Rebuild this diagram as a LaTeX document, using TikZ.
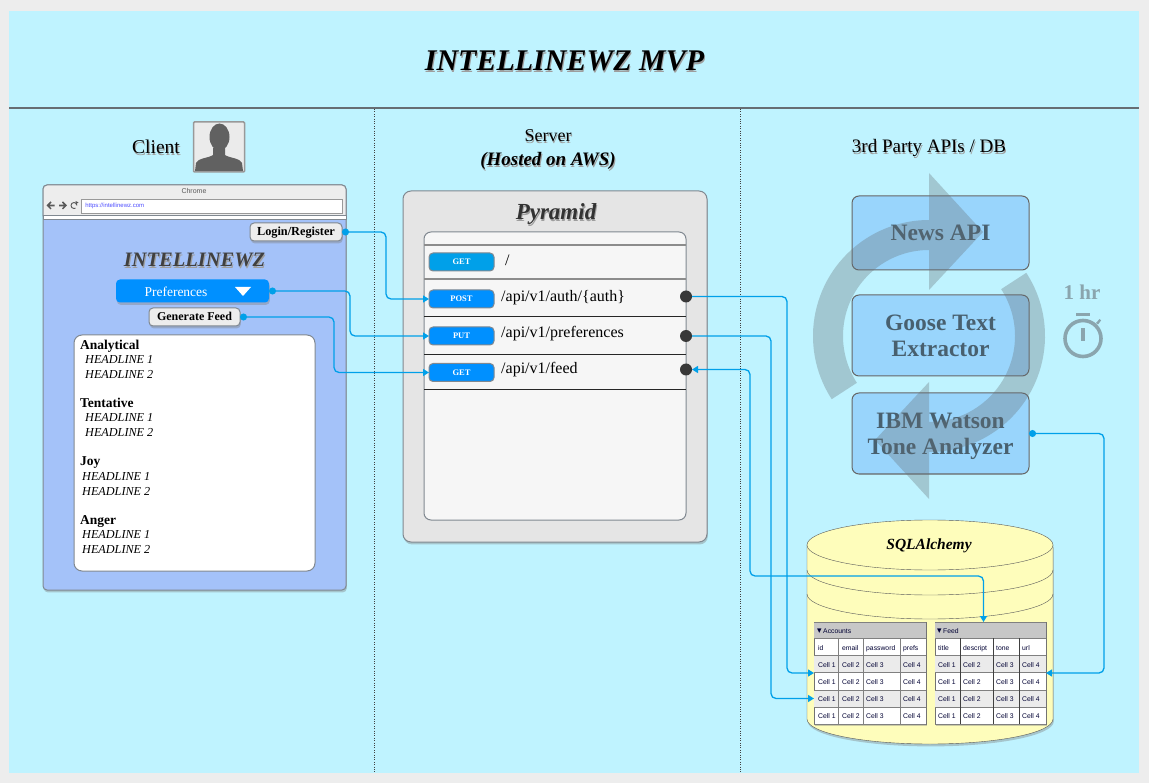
\documentclass[tikz,border=0pt]{standalone}
\usepackage{fontspec}
\setmainfont{Liberation Serif}
\setsansfont{Liberation Sans}
\newfontfamily\symfont{DejaVu Sans}
\usetikzlibrary{arrows.meta,shadows,positioning}
\newcommand{\fsz}[1]{\fontsize{#1}{#1}\selectfont}
\newcommand{\txtshadow}[1]{\leavevmode\rlap{\kern.9pt\raisebox{-1.2pt}{\textcolor{black!38}{#1}}}#1}
\definecolor{sky}{HTML}{BFF3FF}
\definecolor{pagegray}{HTML}{EDEDED}
\definecolor{linegray}{HTML}{808890}
\definecolor{barblue}{HTML}{0090FF}
\definecolor{wireblue}{HTML}{00A0E9}
\definecolor{pageblue}{HTML}{A4C2F9}
\definecolor{apiblue}{HTML}{99D5FC}
\definecolor{apitext}{HTML}{48606F}
\definecolor{ringgray}{HTML}{666F75}
\definecolor{timergray}{HTML}{8AA5AE}
\definecolor{dbyellow}{HTML}{FEFDBB}
\begin{document}
\begin{tikzpicture}[x=1pt,y=-1pt]
		\tikzset{
			softshadow/.style={
				drop shadow={opacity=.4,shadow xshift=.8pt,shadow yshift=-2.4pt}
			},
			box/.style={
				draw=linegray, line width=1pt, rounded corners=4pt, inner sep=0pt, outer sep=0pt
			},
			btn/.style={
				box, fill=pagegray, softshadow, minimum height=18pt, text height=8pt, text depth=0pt
			},
			verb/.style={
				box, fill=barblue, minimum width=65pt, minimum height=18pt, text=white, font=\fsz{8.5}\bfseries
			},
			apibox/.style={
				box, fill=apiblue, draw=black!60, rounded corners=7pt, minimum width=177pt, text=apitext, align=center, font=\fsz{23.5}\bfseries
			},
			lbl/.style={
				anchor=base, inner sep=0pt
			},
			route/.style={
				anchor=base west, inner sep=0pt, font=\fsz{16}
			},
			listhead/.style={
				anchor=base west, inner sep=0pt, font=\fsz{13.5}\bfseries
			},
			listitem/.style={
				anchor=base west, inner sep=0pt, font=\fsz{12.2}\itshape
			},
			cell/.style={
				anchor=west, inner sep=0pt, text=black!80!blue, text height=6.5pt, text depth=0pt, font=\sffamily\fsz{6.8}
			},
			dbtable/.style={
				draw=black!55, fill=white, inner sep=0pt, outer sep=0pt, softshadow
			},
			portdot/.style={
				circle, fill=black!78, minimum size=12pt, inner sep=0pt, outer sep=0pt
			},
			wire/.style={
				draw=wireblue, line width=1.3pt, rounded corners=5pt
			},
			ring/.style={
				fill=ringgray, fill opacity=.33
			}
		}
		
		\fill [pagegray] (0,0) rectangle (1149,783);
		\useasboundingbox (0,0) rectangle (1149,783);
		\fill [sky] (9,11) rectangle (1139,773);
		\draw [color=linegray!80!black, line width=1.2pt] (9,108) -- (1139,108);
		\foreach \x in {374, 740}{
			\draw [black!75, line width=.9pt, dash pattern=on 1pt off 1.4pt] (\x,109) -- (\x,773);
		}
		
		\node [lbl, font=\fsz{30}\bfseries\itshape] (title) at (564.5,71) {\txtshadow{INTELLINEWZ MVP}};
		\node [lbl, font=\fsz{19.5}] (client) at (156,154) {\txtshadow{Client}};
		\node [lbl, font=\fsz{18}] (server) at (548,142) {\txtshadow{Server}};
		\node [lbl, font=\fsz{19}\bfseries\itshape] (hosted) at (548,166) {\txtshadow{(Hosted on AWS)}};
		\node [lbl, font=\fsz{19}] (third) at (929,153) {\txtshadow{3rd Party APIs / DB}};
		
		\node [draw=black!40, line width=1.5pt, fill=white!92!black, rounded corners=1pt, minimum width=51pt, minimum height=50pt, inner sep=0pt] (avatar) at (219,147) {};
		\fill [black!62] (195,171) -- (196,163) .. controls (198,158) and (209,158) .. (213,155) -- (213,148) -- (225,148) -- (225,155) .. controls (229,158) and (240,158) .. (242,163) -- (243,171) -- cycle;
		\fill [black!62] (219.5,137) ellipse [x radius=10, y radius=13.5];
		
		\node [box, fill=pageblue, softshadow, minimum width=303pt, minimum height=405pt] (browser) at (194.5,387.5) {};
		\draw [draw=linegray, line width=1pt, fill=pagegray] (43,216) [rounded corners=4pt] -- (43,185) -- (346,185) [sharp corners] -- (346,216) -- cycle;
		\draw [draw=linegray, line width=1pt, fill=white] (43,216) rectangle (346,219.5);
		\node [lbl, font=\sffamily\fsz{7}, text=black!65] (chrome) at (194,194) {Chrome};
		\node [draw=black!40, fill=white, line width=.8pt, minimum height=14pt, inner sep=0pt, inner xsep=4pt, anchor=west, font=\sffamily\fsz{6}, text=blue!70!white, align=left, text width=253pt] (urlbar) at (81,206) {https://intellinewz.com};
		\fill [black!65] (46.5,205.5) -- (50.5,201.5) -- (51.5,202.5) -- (49.5,204.7) -- (54.5,204.7) -- (54.5,206.3) -- (49.5,206.3) -- (51.5,208.5) -- (50.5,209.5) -- cycle;
		\fill [black!65] (67,205.5) -- (63,201.5) -- (62,202.5) -- (64,204.7) -- (59,204.7) -- (59,206.3) -- (64,206.3) -- (62,208.5) -- (63,209.5) -- cycle;
		\draw [black!65, line width=.9pt] (77,205.5) arc [start angle=0, end angle=-300, radius=3];
		\fill [black!65] (75.5,201) -- (78.5,202.5) -- (75.5,204.5) -- cycle;
		
		\node [btn, font=\fsz{12.3}\bfseries, minimum width=92pt] (login) at (296,232) {Login/Register};
		\node [lbl, font=\fsz{20.5}\bfseries\itshape, text=black!75] (brand) at (194.5,267) {\txtshadow{INTELLINEWZ}};
		\node [box, fill=barblue, softshadow, minimum width=153pt, minimum height=23pt, draw=none] (prefs) at (192.5,291) {};
		\node [lbl, font=\fsz{13.5}, text=white] (prefstext) at (176,297) {Preferences};
		\fill [white] (235,287) -- (251,287) -- (243,296) -- cycle;
		\node [btn, font=\fsz{12}\bfseries, minimum width=91pt] (generate) at (194.5,317) {Generate Feed};
		\node [box, fill=white, rounded corners=8pt, minimum width=241pt, minimum height=236pt] (feedlist) at (194.5,453) {};
		
		\foreach \name/\y/\xh in {Analytical/350/85, Tentative/408/85, Joy/466/82, Anger/524/82}{
			\node [listhead] (head\name) at (80,\y) {\name};
			\node [listitem] (one\name) at (\xh,\y+14) {HEADLINE 1};
			\node [listitem] (two\name) at (\xh,\y+29) {HEADLINE 2};
		}
		
		\node [box, fill=black!10, softshadow, rounded corners=8pt, minimum width=304pt, minimum height=351pt] (pyramid) at (555,366.5) {};
		\node [lbl, font=\fsz{23}\bfseries\itshape, text=black!80] (pyramidtext) at (556,220) {\txtshadow{Pyramid}};
		\node [box, fill=black!3.5, rounded corners=7pt, minimum width=262pt, minimum height=288pt] (routes) at (555,376) {};
		\foreach \y/\c/\w in {245/black!45/1.5, 279/black!45/1.5, 316/black!85/.8, 354/black!85/.8, 389/black!85/.8}{
			\draw [color=\c, line width=\w pt] (424,\y) -- (686,\y);
		}
		
		\node [verb, fill=wireblue] (getroot) at (461.5,262) {GET};
		\node [verb] (post) at (461.5,299) {POST};
		\node [verb] (put) at (461.5,336) {PUT};
		\node [verb] (getfeed) at (461.5,372.5) {GET};
		\node [route] (rootroute) at (505,266) {/};
		\node [route] (authroute) at (501,302) {/api/v1/auth/\{auth\}};
		\node [route] (prefsroute) at (501,338) {/api/v1/preferences};
		\node [route] (feedroute) at (501,374) {/api/v1/feed};
		\node [portdot] (authdot) at (686,296.5) {};
		\node [portdot] (prefsdot) at (686,336) {};
		\node [portdot] (feeddot) at (686,369.5) {};
		
		\node [apibox, minimum height=74pt] (news) at (940.5,233) {News API};
		\node [apibox, minimum height=81pt] (goose) at (940.5,335.5) {Goose Text\\[2.5pt]Extractor};
		\node [apibox, minimum height=81pt] (watson) at (940.5,433.5) {\rule{0pt}{22pt}IBM Watson\\[2.5pt]Tone Analyzer};
		
		\path [ring] (929,336) ++(213:116pt) arc [start angle=213, end angle=90, radius=116pt] -- (929,173) -- (983,232) -- (929,290) -- (929,250) arc [start angle=90, end angle=213, radius=86pt] -- cycle;
		\path [ring] (929,336) ++(33:116pt) arc [start angle=33, end angle=-90, radius=116pt] -- (929,499) -- (875,440) -- (929,382) -- (929,422) arc [start angle=-90, end angle=33, radius=86pt] -- cycle;
		
		\node [lbl, font=\fsz{21}\bfseries, text=timergray] (hour) at (1082,300) {1 hr};
		\draw [timergray, line width=3.6pt] (1083,338.5) circle [radius=18];
		\fill [timergray] (1076,313) rectangle (1090,316.5);
		\fill [timergray] (1081,328) rectangle (1085,341);
		\fill [timergray] (1096,323) -- (1099.5,319) -- (1101,320.5) -- (1098,324.5) -- cycle;
		
		\draw [black!65, fill=dbyellow, softshadow] (807,545) -- (807,719) arc [start angle=180, end angle=360, x radius=123, y radius=-25] -- (1053,545) -- cycle;
		\foreach \y in {570, 594}{
			\draw [black!65] (807,\y) arc [start angle=180, end angle=360, x radius=123, y radius=-25];
		}
		\draw [black!65, fill=dbyellow] (930,545) ellipse [x radius=123, y radius=25];
		\node [lbl, font=\fsz{15.5}\bfseries\itshape] (sqlalchemy) at (929,549) {SQLAlchemy};
		
		\node [dbtable, minimum width=112pt, minimum height=102pt] (accounts) at (870,673) {};
		\node [dbtable, minimum width=111pt, minimum height=102pt] (feed) at (990.5,673) {};
		\fill [black!22] (814,622) rectangle (926,638);
		\fill [black!22] (935,622) rectangle (1046,638);
		\foreach \y in {664, 698.5}{
			\fill [black!8] (814,\y-8.5) rectangle (926,\y+8.5);
			\fill [black!8] (935,\y-8.5) rectangle (1046,\y+8.5);
		}
		\foreach \y in {622, 638, 655, 672, 690, 707, 724}{
			\draw [black!50, line width=1pt] (814,\y) -- (926,\y);
			\draw [black!50, line width=1pt] (935,\y) -- (1046,\y);
		}
		\foreach \x in {838.5, 863, 900}{
			\draw [black!50, line width=.8pt] (\x,638) -- (\x,724);
		}
		\foreach \x in {960.7, 993.6, 1019}{
			\draw [black!75, line width=.7pt] (\x,638) -- (\x,724);
		}
		
		\node [cell] (accountstext) at (817,630) {{\symfont\fsz{9}▾}\kern1.5pt Accounts};
		\node [cell] (feedtext) at (937,630) {{\symfont\fsz{9}▾}\kern1.5pt Feed};
		\foreach \x/\t [count=\k] in {818/id, 842/email, 866/password, 903/prefs}{
			\node [cell] (acol\k) at (\x,647) {\t};
			\foreach \y in {664, 681, 698.5, 715.5}{
				\node [cell] (a\y c\k) at (\x,\y) {Cell \k};
			}
		}
		\foreach \x/\t [count=\k] in {938/title, 963/descript, 996/tone, 1022/url}{
			\node [cell] (fcol\k) at (\x,647) {\t};
			\foreach \y in {664, 681, 698.5, 715.5}{
				\node [cell] (f\y c\k) at (\x,\y) {Cell \k};
			}
		}
		
		\coordinate (acctin) at (814,673);
		\coordinate (acctup) at (814,698.5);
		\coordinate (feedin) at (1046,673);
		\coordinate (feedtop) at (983.5,622);
		\coordinate (feedbend) at (750,576);
		
		\tikzset{
			dotstart/.style={{Circle[length=7pt]}-{Triangle[length=6pt,width=7pt]}},
			bothends/.style={{Triangle[length=6pt,width=7pt]}-{Triangle[length=6pt,width=7pt]}},
			plainstart/.style={-{Triangle[length=6pt,width=7pt]}}
		}
		\path [wire, dotstart] (login.east) -- ++(44,0) |- (post.west);
		\path [wire, dotstart] (prefs.east) -- ++(81,0) |- (put.west);
		\path [wire, dotstart] (generate.east) -- ++(94,0) |- (getfeed.west);
		\path [wire, plainstart] (authdot.east) -- ++(95,0) |- (acctin);
		\path [wire, plainstart] (prefsdot.east) -- ++(79,0) |- (acctup);
		\path [wire, bothends] (feeddot.east) -| (feedbend) -| (feedtop);
		\path [wire, dotstart] (watson.east) -- ++(75,0) |- (feedin);
		\end{tikzpicture}
\end{document}
